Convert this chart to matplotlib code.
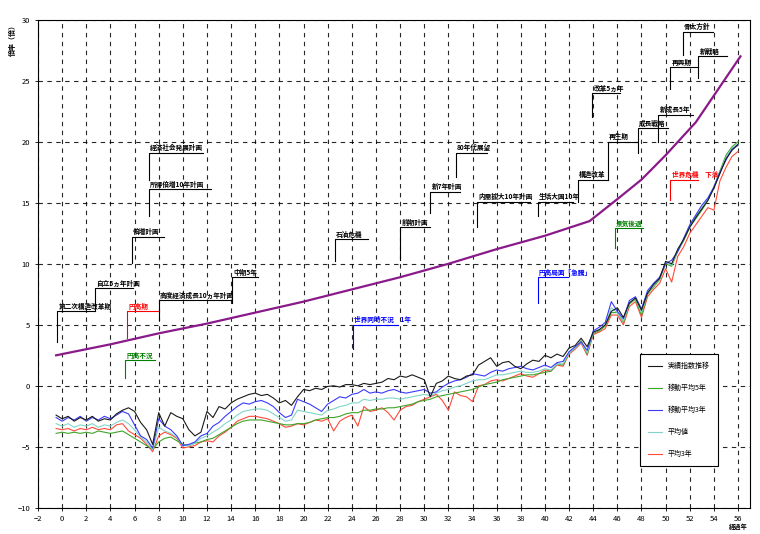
import numpy as np
import matplotlib
matplotlib.use('Agg')
import matplotlib.pyplot as plt

plt.rcParams['font.family'] = ['Noto Sans CJK JP', 'DejaVu Sans']

# *=*=* data *=*=*
# elapsed years, half-year steps
years = np.arange(-0.5, 56.01, 0.5)

s_black = [-2.4, -2.7, -2.5, -2.9, -2.6, -2.8, -2.5, -2.9, -2.7, -2.8,
           -2.3, -2.0, -1.8, -2.1, -3.0, -3.6, -4.8, -2.2, -3.3, -2.2,
           -2.5, -2.7, -3.6, -4.1, -3.8, -2.1, -2.6, -1.7, -1.9, -1.4,
           -1.1, -0.9, -0.7, -0.6, -0.8, -0.7, -1.0, -1.4, -1.2, -1.6,
           -0.9, -0.3, -0.4, -0.2, -0.3, -0.05, 0.0, -0.1, 0.1, 0.1,
           0.0, 0.2, 0.1, 0.2, 0.3, 0.6, 0.5, 0.8, 0.7, 0.9,
           0.7, 0.5, -0.9, 0.2, 0.4, 0.8, 0.6, 0.5, 0.8, 0.9,
           1.7, 2.0, 2.3, 1.6, 1.9, 2.0, 1.6, 1.4, 1.8, 2.1,
           2.0, 2.5, 2.3, 2.6, 2.4, 3.1, 3.3, 3.9, 3.2, 4.4,
           4.6, 5.0, 6.1, 6.4, 5.6, 6.8, 7.2, 6.2, 7.6, 8.3,
           8.8, 10.2, 10.0, 11.2, 12.0, 13.0, 13.8, 14.5, 15.2, 16.2,
           17.4, 18.6, 19.3, 19.8]
s_green = [-3.9, -3.8, -3.9, -3.8, -3.9, -3.8, -3.9, -3.7, -3.8, -3.9,
           -3.8, -3.7, -4.0, -4.3, -4.6, -4.9, -5.2, -4.6, -4.3, -4.2,
           -4.5, -4.8, -4.9, -4.7, -4.6, -4.4, -4.3, -4.0, -3.7, -3.4,
           -3.1, -2.9, -2.8, -2.8, -2.8, -2.9, -3.0, -3.1, -3.2, -3.2,
           -3.1, -3.1, -3.0, -2.8, -2.7, -2.6, -2.6, -2.5, -2.3, -2.2,
           -2.2, -2.0, -2.0, -1.9, -1.9, -1.8, -1.8, -1.7, -1.6, -1.5,
           -1.3, -1.2, -1.1, -0.9, -0.8, -0.7, -0.6, -0.5, -0.4, -0.3,
           -0.1, 0.1, 0.2, 0.3, 0.5, 0.6, 0.7, 0.8, 0.9, 0.9,
           1.0, 1.1, 1.2, 1.8, 1.7, 2.7, 3.1, 3.7, 2.6, 4.3,
           4.5, 4.9, 6.0, 6.0, 5.2, 6.7, 7.1, 5.8, 7.5, 8.1,
           8.7, 10.0, 9.8, 11.0, 11.9, 13.0, 13.7, 14.4, 15.2, 16.3,
           17.6, 18.9, 19.6, 20.0]
s_blue = [-2.6, -2.9, -2.6, -2.8, -2.5, -2.9, -2.6, -2.8, -2.5, -2.7,
          -2.4, -2.1, -2.3, -3.2, -4.1, -4.4, -5.1, -2.7, -3.3, -3.6,
          -4.1, -4.9, -4.8, -4.6, -4.1, -3.9, -3.3, -3.0, -2.5, -2.1,
          -1.7, -1.4, -1.5, -1.3, -1.2, -1.4, -1.7, -2.2, -2.6, -2.4,
          -1.1, -1.3, -1.5, -1.8, -2.1, -1.5, -1.2, -0.9, -1.0, -0.7,
          -0.6, -0.3, -0.6, -0.5, -0.6, -0.4, -0.3, -0.5, -0.6, -0.5,
          -0.4, -0.3, -0.6, -0.5, -0.1, 0.2, 0.4, 0.5, 0.7, 1.0,
          0.9, 0.8, 1.1, 1.3, 1.2, 1.4, 1.5, 1.6, 1.4, 1.3,
          1.5, 1.7, 1.5, 1.9, 2.0, 2.8, 3.2, 3.6, 2.9, 4.5,
          4.8, 5.2, 6.9, 6.1, 5.5, 7.0, 7.3, 6.3, 7.8, 8.4,
          8.9, 10.0, 10.3, 11.0, 12.1, 13.2, 14.0, 14.8, 15.4, 16.3,
          17.5, 18.5, 19.4, 19.7]
s_cyan = [-3.1, -3.3, -3.1, -3.4, -3.2, -3.3, -3.1, -3.4, -3.2, -3.3,
          -3.0, -2.8, -3.1, -3.6, -4.2, -4.6, -5.2, -3.4, -3.7, -3.9,
          -4.2, -4.9, -4.9, -4.7, -4.3, -4.1, -3.8, -3.5, -3.1, -2.8,
          -2.4, -2.1, -2.0, -1.9, -1.9, -2.0, -2.3, -2.6, -2.9, -2.8,
          -2.0, -2.1, -2.2, -2.3, -2.4, -2.0, -1.9, -1.7, -1.6, -1.4,
          -1.4, -1.1, -1.2, -1.1, -1.1, -1.0, -1.0, -1.1, -1.0, -0.9,
          -0.8, -0.7, -0.8, -0.6, -0.4, -0.3, -0.1, 0.0, 0.2, 0.4,
          0.5, 0.5, 0.7, 0.9, 0.9, 1.0, 1.1, 1.2, 1.1, 1.1,
          1.2, 1.4, 1.3, 1.8, 1.8, 2.7, 3.1, 3.6, 2.7, 4.4,
          4.6, 5.0, 6.4, 6.0, 5.3, 6.8, 7.2, 6.0, 7.6, 8.2,
          8.8, 10.1, 9.9, 11.1, 12.0, 13.1, 13.9, 14.6, 15.3, 16.2,
          17.5, 18.7, 19.5, 19.8]
s_red = [-3.5, -3.6, -3.5, -3.7, -3.5, -3.6, -3.4, -3.6, -3.5, -3.6,
         -3.2, -3.1, -3.7, -4.0, -4.3, -4.8, -5.4, -4.1, -3.8, -4.0,
         -4.3, -5.1, -5.0, -4.9, -4.6, -4.5, -4.6, -4.1, -3.8, -3.4,
         -2.9, -2.7, -2.5, -2.5, -2.6, -2.7, -2.9, -3.1, -3.4, -3.3,
         -3.1, -3.2, -3.0, -2.8, -2.9, -2.7, -3.7, -2.9, -2.6, -2.4,
         -3.3, -1.7, -2.1, -2.0, -1.8, -2.2, -2.8, -2.0, -1.7, -1.6,
         -1.3, -1.1, -0.9, -0.7, -1.2, -2.0, -0.5, -0.8, -0.9, -1.3,
         0.0, 0.1, 0.4, 0.5, 0.4, 0.6, 0.8, 1.0, 0.8, 0.7,
         1.0, 1.3, 1.2, 1.7, 1.6, 2.6, 3.0, 3.5, 2.5, 4.2,
         4.4, 4.7, 5.8, 5.8, 5.0, 6.5, 6.9, 5.6, 7.3, 7.9,
         8.4, 9.6, 8.5, 10.6, 11.4, 12.5, 13.2, 13.9, 14.6, 14.4,
         16.8, 17.9, 18.8, 19.2]

series_names = ['実績指数推移', '移動平均5年', '移動平均3年', '平均値', '平均3年']

# target curve
target_x = [-0.5, 4, 8, 12, 16, 20, 24, 28, 32, 36, 40, 43.7, 46, 48, 50, 52.5, 56.2]
target_y = [2.5, 3.4, 4.3, 5.1, 6.0, 6.9, 7.9, 8.9, 10.0, 11.2, 12.3, 13.5, 15.3, 16.9, 18.9, 21.6, 27.0]

# events: (start year, low, high, end year, label, colour)
events = [
    (-0.4, 3.6, 6.1, 2.7, '第二次構造改革期', 'k'),
    (2.7, 6.1, 8.0, 5.9, '自立5ヵ年計画', 'k'),
    (5.4, 3.9, 6.1, 8.0, '円高期', 'red'),
    (8.0, 5.4, 7.0, 14.1, '高度経済成長10ヵ年計画', 'k'),
    (14.1, 6.8, 8.9, 16.2, '中期5年', 'k'),
    (5.2, 0.6, 2.1, 7.7, '円高不況', 'green'),
    (5.8, 10.1, 12.2, 8.4, '倍増計画', 'k'),
    (7.2, 13.9, 16.1, 12.3, '所得倍増10年計画', 'k'),
    (7.2, 16.9, 19.1, 11.7, '経済社会発展計画', 'k'),
    (22.6, 10.2, 12.0, 25.3, '石油危機', 'k'),
    (28.0, 10.3, 13.0, 30.5, '前期計画', 'k'),
    (30.5, 14.2, 15.9, 33.0, '新7年計画', 'k'),
    (32.6, 17.1, 19.1, 35.2, '80年代展望', 'k'),
    (34.4, 13.0, 15.1, 38.8, '内需拡大10年計画', 'k'),
    (39.4, 13.9, 15.1, 42.3, '生活大国10年', 'k'),
    (42.7, 15.1, 16.9, 45.2, '構造改革', 'k'),
    (45.2, 16.9, 20.0, 47.6, '再生期', 'k'),
    (43.9, 22.0, 24.0, 46.2, '改革5ヵ年', 'k'),
    (47.7, 19.1, 21.1, 50.2, '成長戦略', 'k'),
    (49.4, 20.0, 22.2, 52.3, '新成長5年', 'k'),
    (50.4, 24.3, 26.1, 52.7, '再興期', 'k'),
    (52.7, 25.2, 27.0, 55.1, '新戦略', 'k'),
    (51.4, 27.1, 29.0, 53.9, '骨太方針', 'k'),
    (24.1, 3.0, 5.0, 27.8, '世界同時不況　1年', 'blue'),
    (39.4, 6.8, 8.9, 41.9, '円高局面「急騰」', 'blue'),
    (50.4, 15.2, 16.9, 52.7, '世界危機　下落', 'red'),
    (45.8, 11.3, 12.9, 48.1, '景気後退', 'green'),
]

# *=*=* plot *=*=*
fig = plt.figure(figsize=(7.6, 5.34), dpi=100)
ax = fig.add_axes([0.05, 0.049, 0.937, 0.914])

ax.plot(years, s_red, color='#ff4a3a', lw=0.8, label=series_names[4])
ax.plot(years, s_green, color='#3fa52a', lw=0.8, label=series_names[1])
ax.plot(years, s_cyan, color='#7fd6c8', lw=0.8, label=series_names[3])
ax.plot(years, s_blue, color='#3a3aff', lw=0.8, label=series_names[2])
ax.plot(years, s_black, color='#1a1a1a', lw=0.8, label=series_names[0])
ax.plot(target_x, target_y, color='#8a1a8a', lw=1.6)

for x0, lo, hi, x1, txt, c in events:
    ax.plot([x0, x0, x1], [lo, hi, hi], color=c, lw=0.8)
    ax.text(x0 + 0.1, hi + 0.12, txt, color=c, fontsize=4.8, fontweight='bold',
            ha='left', va='bottom')

ax.set_xlim(-2, 57)
ax.set_ylim(-10, 30)
ax.set_xticks(np.arange(-2, 57, 2))
ax.set_yticks(np.arange(-10, 31, 5))
ax.tick_params(labelsize=5.5, length=2, width=0.6)
ax.grid(True, color='k', linestyle=(0, (4, 4)), lw=0.8, alpha=0.85)
for sp in ax.spines.values():
    sp.set_linewidth(0.8)

# legend in series order
h, l = ax.get_legend_handles_labels()
order = [4, 1, 3, 2, 0]
leg = ax.legend([h[i] for i in order], [l[i] for i in order],
                loc='lower right', bbox_to_anchor=(0.96, 0.078),
                fontsize=5, labelspacing=2.0, handlelength=2.0,
                borderpad=1.2, fancybox=False, edgecolor='k', framealpha=1)
leg.get_frame().set_linewidth(0.8)

ax.annotate('経過年', xy=(56, 0), xycoords=('data', 'axes fraction'),
            xytext=(0, -11), textcoords='offset points', ha='center', va='top',
            fontsize=4.5, fontweight='bold')
fig.text(0.016, 0.96, '倍率（倍）', rotation=90, fontsize=5, fontweight='bold',
         ha='center', va='top')

fig.savefig('out.png', dpi=100)
